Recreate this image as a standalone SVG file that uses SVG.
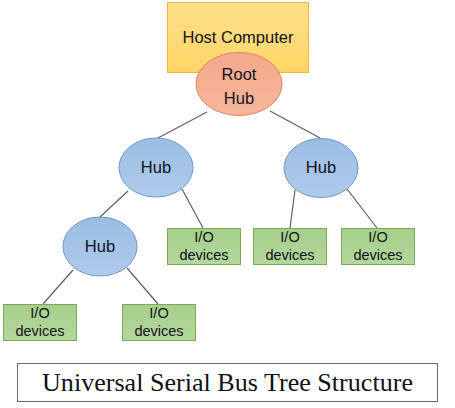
<svg xmlns="http://www.w3.org/2000/svg" width="455" height="408" viewBox="0 0 455 408">
<defs>
<linearGradient id="gHub" x1="0" y1="0" x2="0" y2="1">
<stop offset="0" stop-color="#9ABDE3"/>
<stop offset="1" stop-color="#AFCBEB"/>
</linearGradient>
<linearGradient id="gRoot" x1="0" y1="0" x2="0" y2="1">
<stop offset="0" stop-color="#F4A88A"/>
<stop offset="1" stop-color="#F7B69C"/>
</linearGradient>
<linearGradient id="gHost" x1="0" y1="0" x2="0" y2="1">
<stop offset="0" stop-color="#FFE08A"/>
<stop offset="1" stop-color="#FFD566"/>
</linearGradient>
<linearGradient id="gIO" x1="0" y1="0" x2="0" y2="1">
<stop offset="0" stop-color="#A6CF8A"/>
<stop offset="1" stop-color="#B3D79B"/>
</linearGradient>
</defs>
<style>
.lbl{font-family:"Liberation Sans",Arial,sans-serif;font-size:16.5px;fill:#111122;text-anchor:middle}
.io{font-family:"Liberation Sans",Arial,sans-serif;font-size:14.5px;fill:#111122;text-anchor:middle}
.hub{fill:url(#gHub);stroke:#6F97C9;stroke-width:1}
.iobox{fill:url(#gIO);stroke:#7DA85F;stroke-width:1}
.conn line{stroke:#5F5F5F;stroke-width:1.2}
</style>
<rect width="455" height="408" fill="#ffffff"/>
<g id="host">
<rect x="167.5" y="2.5" width="141" height="70" fill="url(#gHost)" stroke="#F0B43C" stroke-width="1"/>
<text class="lbl" x="238" y="43" font-size="16.8">Host Computer</text>
</g>
<g class="conn" id="connectors">
<line x1="207" y1="112" x2="158" y2="138"/>
<line x1="270" y1="111" x2="320" y2="138"/>
<line x1="128" y1="191" x2="100" y2="217"/>
<line x1="182" y1="189" x2="203" y2="228"/>
<line x1="73" y1="270" x2="43" y2="304"/>
<line x1="127" y1="268" x2="158" y2="304"/>
<line x1="295" y1="190" x2="290" y2="228"/>
<line x1="347" y1="189" x2="377" y2="228"/>
</g>
<g id="roothub">
<ellipse cx="239" cy="84" rx="43" ry="31.5" fill="url(#gRoot)" stroke="#E4825F" stroke-width="1"/>
<text class="lbl" x="239" y="80">Root</text>
<text class="lbl" x="239" y="104">Hub</text>
</g>
<g id="hub1">
<ellipse class="hub" cx="156" cy="167.5" rx="37" ry="29.5"/>
<text class="lbl" x="156" y="173">Hub</text>
</g>
<g id="hub2">
<ellipse class="hub" cx="321" cy="168" rx="37" ry="29.5"/>
<text class="lbl" x="321" y="173">Hub</text>
</g>
<g id="hub3">
<ellipse class="hub" cx="100" cy="246.5" rx="37" ry="29.5"/>
<text class="lbl" x="100" y="252">Hub</text>
</g>
<g id="io1">
<rect class="iobox" x="167.5" y="228.5" width="73" height="36"/>
<text class="io" x="204" y="242">I/O</text>
<text class="io" x="204" y="260">devices</text>
</g>
<g id="io2">
<rect class="iobox" x="253.5" y="228.5" width="73" height="36"/>
<text class="io" x="290" y="242">I/O</text>
<text class="io" x="290" y="260">devices</text>
</g>
<g id="io3">
<rect class="iobox" x="341.5" y="228.5" width="73" height="36"/>
<text class="io" x="378" y="242">I/O</text>
<text class="io" x="378" y="260">devices</text>
</g>
<g id="io4">
<rect class="iobox" x="3.5" y="304.5" width="73" height="36"/>
<text class="io" x="40" y="318">I/O</text>
<text class="io" x="40" y="336">devices</text>
</g>
<g id="io5">
<rect class="iobox" x="122.5" y="304.5" width="73" height="36"/>
<text class="io" x="159" y="318">I/O</text>
<text class="io" x="159" y="336">devices</text>
</g>
<g id="title">
<rect x="17.5" y="363.5" width="420" height="38" fill="#ffffff" stroke="#5A6E80" stroke-width="1"/>
<text x="227.5" y="391" font-family="'Liberation Serif','Times New Roman',serif" font-size="24.5" fill="#111111" text-anchor="middle" textLength="371" lengthAdjust="spacingAndGlyphs">Universal Serial Bus Tree Structure</text>
</g>
</svg>
